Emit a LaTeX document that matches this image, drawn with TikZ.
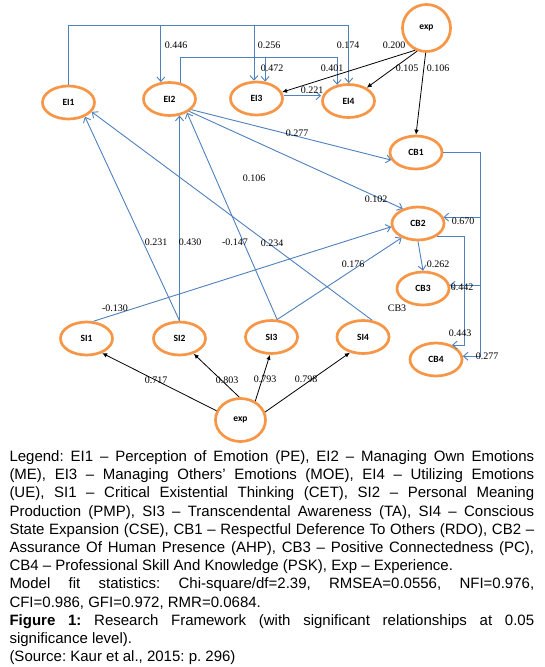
\documentclass[tikz,border=0pt]{standalone}
\usepackage{fontspec}
\setmainfont{Liberation Serif}
\newfontfamily\legendfont{Liberation Sans}
\newfontfamily\nodefont{Carlito}
\usetikzlibrary{arrows.meta,shapes.geometric,calc}
\definecolor{ringor}{HTML}{F79646}
\definecolor{linebl}{HTML}{4F81BD}
\newcommand\legspacing{\frenchspacing\spaceskip=4.17pt plus 1fil minus 1.2pt\relax\xspaceskip=4.17pt plus 1fil minus 1.2pt\relax}
\tikzset{
  lv/.style={ellipse, draw=ringor, line width=2.7pt, fill=white, minimum width=52pt, minimum height=33pt, inner sep=0pt, font=\nodefont\bfseries\fontsize{9.5}{11}\selectfont},
  expnode/.style={lv, minimum width=48pt, minimum height=47pt},
  bl/.style={draw=linebl, line width=0.9pt, -{Straight Barb[length=4.5pt,width=8pt]}},
  bk/.style={draw=black, line width=0.8pt, -{Latex[length=5pt,width=4.5pt]}},
  coef/.style={inner sep=0pt, font=\fontsize{10}{12}\selectfont},
  leg/.style={anchor=base west, inner sep=0pt, font=\legendfont\fontsize{15}{18}\selectfont\legspacing},
}
\begin{document}
\begin{tikzpicture}[x=1pt,y=-1pt]
\fill[white] (0,0) rectangle (544,667);
\useasboundingbox (0,0) rectangle (544,667);

% nodes
\node[lv] (EI1) at (68.5,102.5) {EI1};
\node[lv] (EI2) at (169.5,99) {EI2};
\node[lv] (EI3) at (256.5,98.5) {EI3};
\node[lv] (EI4) at (348.5,101) {EI4};
\node[expnode] (expT) at (426.5,28) {exp};
\node[lv] (CB1) at (416,152.5) {CB1};
\node[lv] (CB2) at (418,223.5) {CB2};
\node[lv] (CB3) at (423,288.5) {CB3};
\node[lv] (CB4) at (436,359.5) {CB4};
\node[lv] (SI1) at (86.5,338.5) {SI1};
\node[lv] (SI2) at (179.5,338.5) {SI2};
\node[lv] (SI3) at (271.5,337) {SI3};
\node[lv] (SI4) at (363,337) {SI4};
\node[expnode, minimum width=50pt, minimum height=43pt] (expB) at (240.5,420) {exp};

\coordinate (busA) at (0,25);
\coordinate (busB) at (0,57);
\coordinate (busC) at (480,0);
\coordinate (busD) at (464,0);

% EI1 bus
\draw[bl] (EI1.north) |- (EI4.89 |- busA) -- (EI4.89);
\draw[bl] (EI2.117 |- busA) -- (EI2.117);
\draw[bl] (EI3.98 |- busA) -- (EI3.98);
% EI2 bus
\draw[bl] (EI2.57) |- (EI4.125 |- busB) -- (EI4.125);
\draw[bl] (EI3.63 |- busB) -- (EI3.63);
% EI3 -> EI4
\draw[bl] (EI3.6) -- (EI3.6 -| EI4.west);
% EI2 -> CB
\draw[bl] (EI2.-26) -- (CB1.-163);
\draw[bl] (EI2.-32) -- (CB2.136);
% SI -> ...
\draw[bl] (SI1.68) -- (CB2.-173);
\draw[bl] (SI2.north) -- (SI2.north |- EI2.-59);
\draw[bl] (SI2.north) -- (EI1.-41);
\draw[bl] (SI3.72) -- (EI2.-38);
\draw[bl] (SI4.62) -- (EI1.-22);
\draw[bl] (SI3.72) -- (CB2.-139);
% CB
\draw[bl] (CB2.south) -- (CB3.north);
\draw[bl] (CB2.-35) -| (busD |- CB4.42) -- (CB4.42);
\draw[bl] (CB1.east) -| (busC |- CB4.7) -- (CB4.7);
\draw[bl] (busC |- CB2.14) -- (CB2.14);
\draw[bl] (busC |- CB3.7) -- (CB3.7);

% black exp arrows
\draw[bk] (expT.-117) -- (EI3.14);
\draw[bk] (expT.-112) -- (EI4.36);
\draw[bk] (expT.-92) -- (CB1.north);
\draw[bk] (expB.159) -- (SI1.-43);
\draw[bk] (expB.93) -- (SI2.-47);
\draw[bk] (expB.52) -- (SI3.-95);
\draw[bk] (expB.18) -- (SI4.-130);

% coefficients
\node[coef] (c1) at (176,45) {0.446};
\node[coef] (c2) at (269,45) {0.256};
\node[coef] (c3) at (348,45) {0.174};
\node[coef] (c4) at (394,45) {0.200};
\node[coef] (c5) at (272,68) {0.472};
\node[coef] (c6) at (332,68) {0.401};
\node[coef] (c7) at (407,68) {0.105};
\node[coef] (c8) at (438,68) {0.106};
\node[coef] (c9) at (312,90) {0.221};
\node[coef] (c10) at (297,133) {0.277};
\node[coef] (c11) at (254,178) {0.106};
\node[coef] (c12) at (376,199) {0.102};
\node[coef] (c13) at (463,221) {0.670};
\node[coef] (c14) at (156,242) {0.231};
\node[coef] (c15) at (190,242) {0.430};
\node[coef] (c16) at (235,242) {-0.147};
\node[coef] (c17) at (272,243) {0.234};
\node[coef] (c18) at (438,264) {0.262};
\node[coef] (c19) at (353,264) {0.176};
\node[coef] (c20) at (462,287) {0.442};
\node[coef] (c21) at (397,308) {CB3};
\node[coef] (c22) at (115,308) {-0.130};
\node[coef] (c23) at (460,333) {0.443};
\node[coef] (c24) at (487,356) {0.277};
\node[coef] (c25) at (156,380) {0.717};
\node[coef] (c26) at (227,380) {0.803};
\node[coef] (c27) at (265,379) {0.793};
\node[coef] (c28) at (306,379) {0.798};

% legend
\node[leg] (L1) at (9.3,461.5) {\makebox[524.7pt][s]{Legend: EI1 – Perception of Emotion (PE), EI2 – Managing Own Emotions}};
\node[leg] (L2) at (9.3,479.7) {\makebox[524.7pt][s]{(ME), EI3 – Managing Others’ Emotions (MOE), EI4 – Utilizing Emotions}};
\node[leg] (L3) at (9.3,497.9) {\makebox[524.7pt][s]{(UE), SI1 – Critical Existential Thinking (CET), SI2 – Personal Meaning}};
\node[leg] (L4) at (9.3,516) {\makebox[524.7pt][s]{Production (PMP), SI3 – Transcendental Awareness (TA), SI4 – Conscious}};
\node[leg] (L5) at (9.3,534.2) {\makebox[524.7pt][s]{State Expansion (CSE), CB1 – Respectful Deference To Others (RDO), CB2 –}};
\node[leg] (L6) at (9.3,552.4) {\makebox[524.7pt][s]{Assurance Of Human Presence (AHP), CB3 – Positive Connectedness (PC),}};
\node[leg] (L7) at (9.3,570.6) {CB4 – Professional Skill And Knowledge (PSK), Exp – Experience.};
\node[leg] (L8) at (9.3,588.8) {\makebox[524.7pt][s]{Model fit statistics: Chi-square/df=2.39, RMSEA=0.0556, NFI=0.976,}};
\node[leg] (L9) at (9.3,607) {CFI=0.986, GFI=0.972, RMR=0.0684.};
\node[leg] (L10) at (9.3,625.1) {\makebox[524.7pt][s]{\textbf{Figure 1:} Research Framework (with significant relationships at 0.05}};
\node[leg] (L11) at (9.3,643.3) {significance level).};
\node[leg] (L12) at (9.3,661.5) {(Source: Kaur et al., 2015: p. 296)};
\end{tikzpicture}
\end{document}
